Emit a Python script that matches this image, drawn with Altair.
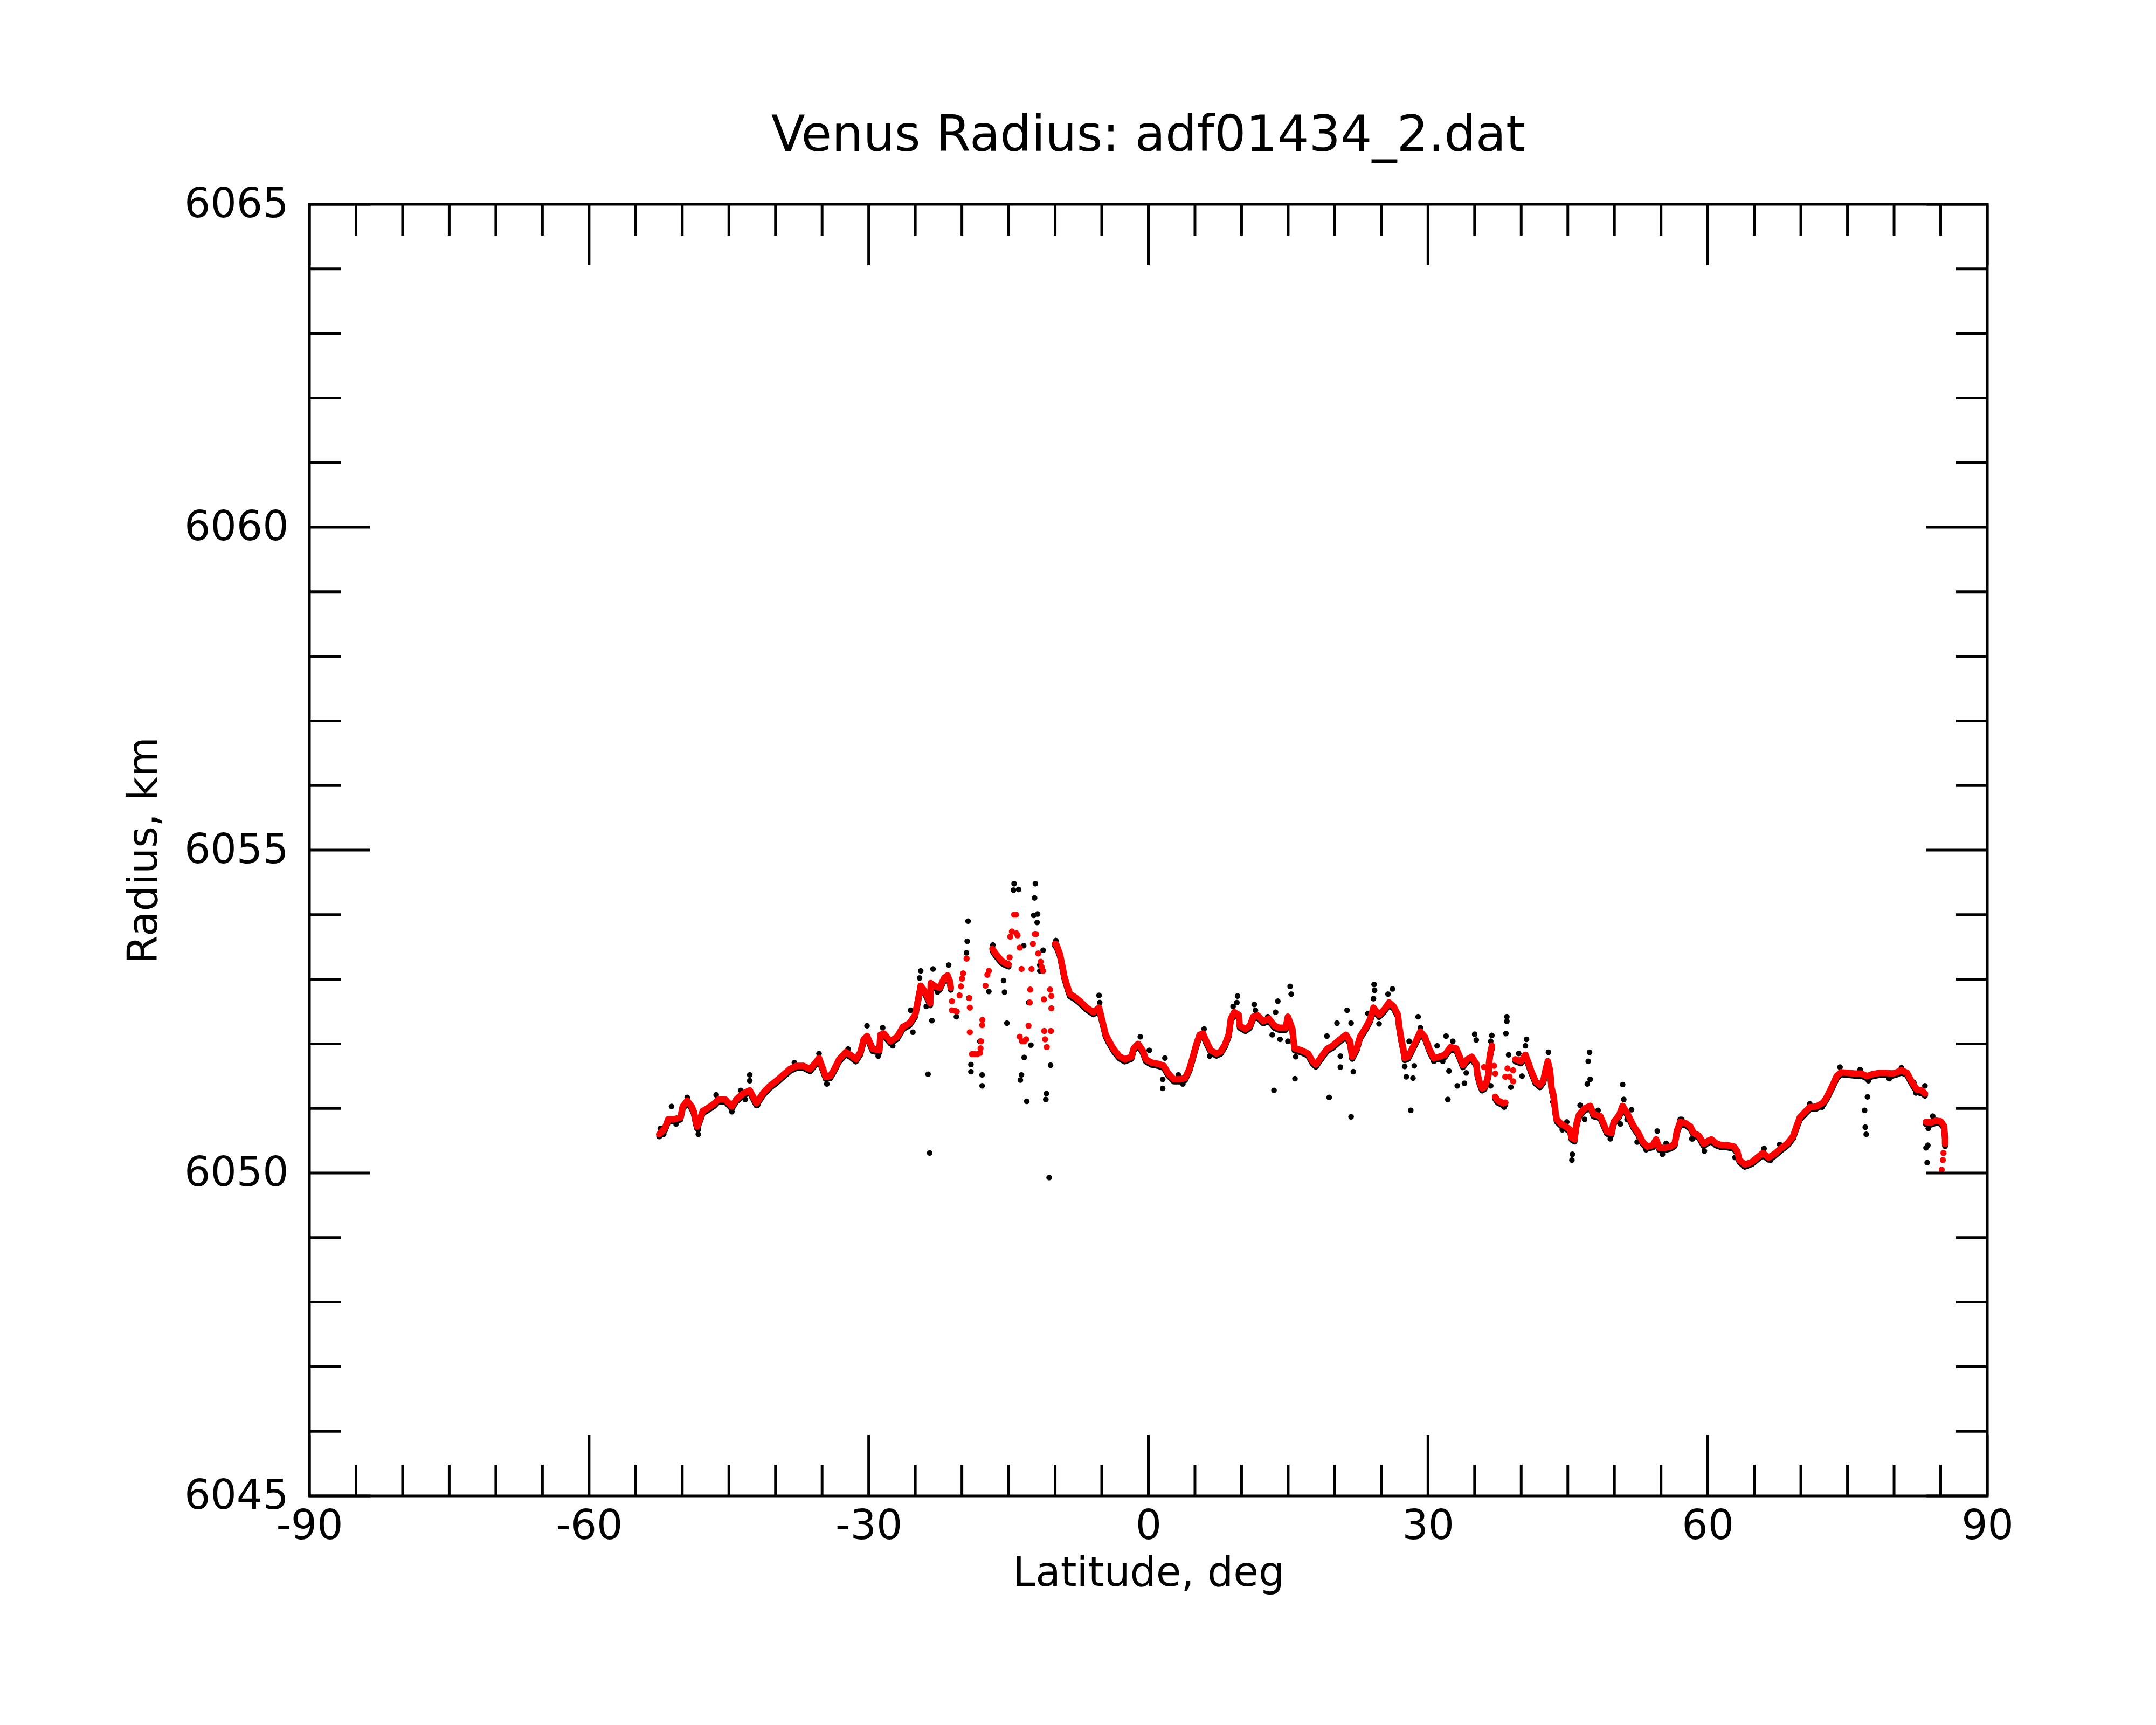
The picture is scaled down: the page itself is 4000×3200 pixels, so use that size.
import altair as alt
import pandas as pd

# ---------------- data ----------------
# smoothed radius (red), continuous runs as [latitude, radius] pairs
run_1 = [
    [-52.47, 6050.60], [-51.87, 6050.69], [-51.51, 6050.83], [-50.91, 6050.83], [-50.20, 6050.86],
    [-49.95, 6051.03], [-49.47, 6051.12], [-48.99, 6051.03], [-48.76, 6050.95], [-48.52, 6050.78],
    [-48.40, 6050.72], [-48.04, 6050.86], [-47.80, 6050.96], [-47.32, 6051.00], [-46.60, 6051.07],
    [-46.12, 6051.14], [-45.40, 6051.14], [-44.68, 6051.03], [-44.20, 6051.14], [-43.48, 6051.23],
    [-42.76, 6051.28], [-42.04, 6051.08], [-41.32, 6051.24], [-40.60, 6051.35], [-39.88, 6051.43],
    [-39.17, 6051.52], [-38.45, 6051.61], [-37.73, 6051.66], [-37.01, 6051.66], [-36.29, 6051.61],
    [-35.57, 6051.73], [-35.33, 6051.78], [-34.85, 6051.59], [-34.61, 6051.49], [-34.13, 6051.50],
    [-33.65, 6051.62], [-33.17, 6051.76], [-32.45, 6051.87], [-31.97, 6051.83], [-31.37, 6051.76],
    [-30.89, 6051.87], [-30.53, 6052.07], [-30.17, 6052.12], [-29.81, 6052.00], [-29.57, 6051.92],
    [-28.86, 6051.90], [-28.74, 6052.14], [-28.38, 6052.16], [-27.66, 6052.04], [-26.94, 6052.11],
    [-26.34, 6052.26], [-25.62, 6052.32], [-25.02, 6052.45], [-24.78, 6052.63], [-24.54, 6052.80],
    [-24.42, 6052.90], [-24.06, 6052.83], [-23.70, 6052.73], [-23.40, 6052.63], [-23.34, 6052.94],
    [-22.86, 6052.89], [-22.38, 6052.87], [-21.90, 6053.02], [-21.54, 6053.06], [-21.30, 6052.97],
    [-21.19, 6052.87],
]
run_2 = [
    [-16.72, 6053.47], [-16.40, 6053.40], [-16.06, 6053.34], [-15.70, 6053.28], [-15.33, 6053.25],
    [-15.00, 6053.23],
]
run_3 = [
    [-10.00, 6053.55], [-9.85, 6053.53], [-9.49, 6053.39], [-9.25, 6053.22], [-9.01, 6053.04],
    [-8.65, 6052.87], [-8.41, 6052.77], [-7.93, 6052.73], [-7.33, 6052.66], [-6.61, 6052.56],
    [-5.89, 6052.49], [-5.29, 6052.56], [-4.93, 6052.35], [-4.57, 6052.14], [-4.21, 6052.04],
    [-3.73, 6051.92], [-3.13, 6051.81], [-2.53, 6051.76], [-1.81, 6051.80], [-1.57, 6051.93],
    [-1.10, 6052.00], [-0.62, 6051.90], [-0.26, 6051.76], [0.34, 6051.71], [1.06, 6051.69],
    [1.66, 6051.66], [2.14, 6051.54], [2.74, 6051.45], [3.34, 6051.45], [3.94, 6051.47],
    [4.42, 6051.62], [4.78, 6051.80], [5.14, 6051.99], [5.50, 6052.14], [5.86, 6052.16],
    [6.22, 6052.04], [6.70, 6051.90], [7.30, 6051.85], [7.77, 6051.88], [8.25, 6052.00],
    [8.61, 6052.14], [8.73, 6052.25], [8.85, 6052.39], [9.21, 6052.49], [9.69, 6052.45],
    [9.81, 6052.28], [10.41, 6052.23], [10.89, 6052.28], [11.25, 6052.42], [11.73, 6052.44],
    [12.33, 6052.35], [12.93, 6052.39], [13.53, 6052.28], [14.01, 6052.25], [14.73, 6052.25],
    [14.97, 6052.42], [15.45, 6052.23], [15.57, 6052.06], [15.69, 6051.93], [16.41, 6051.90],
    [17.13, 6051.85], [17.61, 6051.73], [17.97, 6051.68], [18.56, 6051.80], [19.16, 6051.92],
    [19.76, 6051.97], [20.48, 6052.06], [21.20, 6052.14], [21.63, 6052.04], [21.87, 6051.80],
    [22.35, 6051.93], [22.71, 6052.11], [23.31, 6052.25], [23.79, 6052.38], [24.15, 6052.56],
    [24.75, 6052.45], [25.35, 6052.54], [25.83, 6052.64], [26.31, 6052.58], [26.78, 6052.45],
    [26.90, 6052.28], [27.14, 6052.07], [27.34, 6051.93], [27.50, 6051.78], [27.86, 6051.80],
    [28.22, 6051.90], [28.70, 6052.04], [29.18, 6052.19], [29.66, 6052.11], [30.14, 6051.92],
    [30.62, 6051.78], [31.22, 6051.80], [31.82, 6051.83], [32.42, 6051.95], [33.02, 6051.93],
    [33.38, 6051.81], [33.74, 6051.67], [34.22, 6051.76], [34.70, 6051.80], [35.18, 6051.69],
    [35.30, 6051.54], [35.55, 6051.40], [35.80, 6051.31], [36.05, 6051.33], [36.30, 6051.42],
    [36.50, 6051.54], [36.55, 6051.71], [36.65, 6051.83], [36.86, 6051.97],
]
run_4 = [
    [37.21, 6051.18], [37.50, 6051.12], [37.81, 6051.10], [38.05, 6051.08], [38.29, 6051.09],
]
run_5 = [
    [39.37, 6051.76], [39.97, 6051.73], [40.45, 6051.83], [40.81, 6051.69], [41.05, 6051.59],
    [41.53, 6051.42], [42.01, 6051.36], [42.37, 6051.43], [42.61, 6051.59], [42.85, 6051.73],
    [43.09, 6051.59], [43.26, 6051.31], [43.45, 6051.21], [43.57, 6051.07], [43.69, 6050.93],
    [43.81, 6050.83], [44.29, 6050.76], [44.77, 6050.72], [45.25, 6050.67], [45.40, 6050.55],
    [45.72, 6050.52], [45.80, 6050.62], [45.96, 6050.78], [46.20, 6050.90], [46.80, 6051.00],
    [47.40, 6051.04], [47.76, 6050.91], [48.48, 6050.88], [48.84, 6050.76], [49.20, 6050.64],
    [49.68, 6050.62], [49.92, 6050.79], [50.52, 6050.90], [50.88, 6051.04], [51.36, 6050.93],
    [51.84, 6050.79], [52.08, 6050.72], [52.56, 6050.62], [53.04, 6050.48], [53.52, 6050.41],
    [54.11, 6050.43], [54.47, 6050.52], [54.83, 6050.39], [55.43, 6050.39], [56.03, 6050.41],
    [56.46, 6050.45], [56.70, 6050.65], [57.06, 6050.79], [57.66, 6050.77], [58.14, 6050.72],
    [58.50, 6050.62], [58.91, 6050.59], [59.10, 6050.57], [59.58, 6050.45], [60.06, 6050.50],
    [60.42, 6050.52], [60.90, 6050.46], [61.49, 6050.43], [62.09, 6050.43], [62.81, 6050.41],
    [63.17, 6050.34], [63.41, 6050.20], [64.01, 6050.13], [64.73, 6050.17], [65.33, 6050.24],
    [65.93, 6050.31], [66.53, 6050.24], [67.13, 6050.29], [67.85, 6050.38], [68.57, 6050.46],
    [69.17, 6050.57], [69.53, 6050.72], [69.89, 6050.86], [70.48, 6050.95], [70.96, 6051.02],
    [71.68, 6051.03], [72.40, 6051.09], [72.76, 6051.17], [73.24, 6051.31], [73.60, 6051.42],
    [73.84, 6051.50], [74.32, 6051.56], [75.04, 6051.55], [75.76, 6051.54], [76.48, 6051.54],
    [77.08, 6051.50], [77.68, 6051.53], [78.40, 6051.55], [79.12, 6051.55], [79.84, 6051.54],
    [80.31, 6051.56], [80.79, 6051.59], [81.39, 6051.55], [81.75, 6051.45], [82.11, 6051.36],
    [82.47, 6051.29], [82.95, 6051.28], [83.31, 6051.23],
]
run_6 = [
    [83.43, 6050.79], [83.91, 6050.78], [84.51, 6050.81], [84.99, 6050.80], [85.35, 6050.73],
    [85.47, 6050.55], [85.47, 6050.45],
]
# smoothed radius (red), isolated dots
red_dots = [
    [-21.07, 6052.66], [-21.07, 6052.52], [-20.70, 6052.51], [-20.55, 6052.50], [-20.25, 6052.75],
    [-20.10, 6052.89], [-19.99, 6053.01], [-19.87, 6053.09], [-19.50, 6053.32], [-19.21, 6052.71],
    [-19.15, 6052.56], [-19.15, 6052.18], [-18.92, 6051.84], [-18.65, 6051.84], [-18.35, 6051.84],
    [-18.05, 6051.86], [-18.00, 6051.93], [-17.95, 6052.04], [-17.83, 6052.29], [-17.80, 6052.37],
    [-17.47, 6052.90], [-17.27, 6053.07], [-17.11, 6053.13],
    [-14.88, 6053.34], [-14.81, 6053.66], [-14.64, 6053.74], [-14.40, 6054.00], [-14.20, 6054.00],
    [-14.04, 6053.68], [-14.15, 6053.71], [-13.80, 6053.49], [-13.60, 6053.16], [-13.80, 6052.11],
    [-13.55, 6052.04], [-13.30, 6052.04], [-13.10, 6052.07], [-12.85, 6052.28], [-12.72, 6052.64],
    [-12.67, 6052.84], [-12.53, 6053.16], [-12.38, 6053.55], [-12.18, 6053.70], [-12.05, 6053.70],
    [-11.81, 6053.40], [-11.55, 6053.27], [-11.44, 6053.19], [-11.30, 6053.13], [-11.20, 6052.69],
    [-11.17, 6052.20], [-11.08, 6052.07], [-10.90, 6051.95], [-10.45, 6052.20], [-10.54, 6052.84],
    [-10.40, 6052.74], [-10.40, 6052.55],
    [37.09, 6051.66], [37.21, 6051.54], [36.01, 6051.64],
    [38.29, 6051.49], [38.53, 6051.62], [38.75, 6051.49], [39.13, 6051.59], [39.13, 6051.42],
    [85.30, 6050.31], [85.23, 6050.20], [85.11, 6050.05],
]
# raw radius samples (black) standing off the smoothed curve
raw_dots = [
    [-19.34, 6053.90], [-19.43, 6053.59], [-19.51, 6053.41], [-23.63, 6051.53], [-23.46, 6050.31],
    [-23.22, 6052.36], [-17.83, 6051.52], [-17.83, 6051.35], [-19.03, 6051.57], [-19.03, 6051.68],
    [-18.07, 6052.04], [-17.11, 6052.81], [-16.68, 6053.53], [-23.82, 6052.58], [-25.26, 6052.18],
    [-24.42, 6053.13], [-24.54, 6053.02], [-23.10, 6053.16], [-21.42, 6053.22], [-22.62, 6052.80],
    [-25.50, 6052.52], [-20.59, 6052.42], [-19.27, 6052.71], [-27.42, 6051.97], [-28.98, 6051.81],
    [-30.18, 6052.28], [-28.50, 6052.25], [-32.21, 6051.92], [-35.33, 6051.85], [-37.97, 6051.71],
    [-34.49, 6051.38], [-42.76, 6051.52], [-42.76, 6051.43], [-41.92, 6051.05], [-44.68, 6050.95],
    [-46.36, 6051.21], [-48.28, 6050.60], [-48.28, 6050.67], [-49.47, 6051.17], [-51.15, 6051.03],
    [-50.67, 6050.76], [-52.35, 6050.69], [-51.99, 6050.60], [-43.72, 6051.28], [-43.24, 6051.14],
    [-14.40, 6054.48], [-13.92, 6054.39], [-14.47, 6054.38], [-12.12, 6054.48], [-12.20, 6054.26],
    [-11.88, 6054.01], [-12.29, 6053.99], [-11.93, 6053.88], [-13.37, 6053.52], [-11.29, 6053.45],
    [-11.64, 6053.22], [-11.64, 6053.13], [-15.53, 6052.98], [-15.43, 6052.80], [-15.17, 6052.32],
    [-12.84, 6052.64], [-12.60, 6051.98], [-13.32, 6051.79], [-13.61, 6051.52], [-13.73, 6051.44],
    [-13.04, 6051.11], [-10.49, 6051.67], [-10.93, 6051.23], [-11.00, 6051.14], [-10.64, 6049.93],
    [-9.92, 6053.60], [-5.29, 6052.75], [-5.22, 6052.64], [-0.86, 6052.11], [0.10, 6051.90],
    [1.78, 6051.78], [1.54, 6051.45], [1.54, 6051.31], [3.22, 6051.52], [3.70, 6051.38],
    [5.98, 6052.23], [6.58, 6051.81], [9.57, 6052.74], [9.50, 6052.64], [9.09, 6052.58],
    [11.37, 6052.61], [11.49, 6052.52], [13.89, 6052.66], [13.65, 6052.49], [15.21, 6052.89],
    [15.33, 6052.77], [13.29, 6052.14], [14.13, 6052.07], [14.97, 6052.04], [15.81, 6051.80],
    [15.73, 6051.46], [13.48, 6051.28], [19.40, 6051.17], [20.60, 6051.64], [20.60, 6051.81],
    [20.24, 6052.32], [21.32, 6052.52], [19.16, 6052.12], [12.81, 6052.42],
    [21.75, 6052.32], [21.99, 6051.57], [21.75, 6050.87], [24.22, 6052.92], [24.27, 6052.83],
    [24.15, 6052.70], [23.55, 6052.47], [24.75, 6052.31], [25.23, 6052.51], [26.19, 6052.85],
    [25.71, 6052.77], [27.50, 6051.65], [27.67, 6051.49], [28.39, 6051.47], [28.15, 6050.97],
    [28.53, 6051.66], [27.98, 6052.04], [28.94, 6052.42], [29.18, 6052.25], [30.62, 6051.73],
    [30.98, 6051.97], [31.58, 6051.73], [31.94, 6052.12], [32.66, 6052.04], [32.25, 6051.58],
    [33.14, 6051.35], [32.13, 6051.14], [33.91, 6051.39], [34.10, 6051.55], [35.01, 6052.15],
    [35.18, 6052.06], [36.73, 6051.35], [36.85, 6052.13], [36.73, 6052.04], [38.17, 6051.02],
    [38.46, 6052.42], [38.46, 6052.35], [38.36, 6052.16], [38.65, 6051.83], [38.89, 6051.33],
    [39.73, 6051.85], [40.09, 6051.50], [40.57, 6052.07], [40.45, 6051.97], [42.92, 6051.87],
    [43.40, 6051.10], [44.41, 6050.67], [44.89, 6050.79], [45.44, 6050.20], [45.49, 6050.29],
    [47.33, 6051.87], [47.19, 6051.73], [47.40, 6051.45], [47.09, 6051.38], [46.32, 6051.05],
    [46.80, 6050.83], [48.24, 6050.97], [49.56, 6050.53], [50.88, 6051.37], [51.00, 6051.14],
    [50.64, 6050.76], [51.36, 6050.83], [51.84, 6050.98], [52.44, 6050.48], [53.40, 6050.36],
    [54.60, 6050.65], [55.15, 6050.29], [55.55, 6050.46], [57.23, 6050.83], [58.31, 6050.53],
    [74.20, 6051.64], [76.36, 6051.60], [77.25, 6051.43], [77.15, 6051.18], [76.84, 6050.97],
    [76.91, 6050.71], [77.01, 6050.60], [80.79, 6051.63], [79.48, 6051.46], [83.31, 6051.35],
    [83.67, 6050.69], [83.62, 6050.43], [83.43, 6050.39], [83.55, 6050.16], [84.15, 6050.88],
    [58.38, 6050.53], [59.65, 6050.34], [62.93, 6050.24], [63.89, 6050.10], [66.05, 6050.38],
    [66.77, 6050.20], [67.73, 6050.44], [70.96, 6051.07], [72.28, 6051.02], [57.06, 6050.83],
    [82.83, 6051.23], [82.11, 6051.40], [82.35, 6051.24],
]

# axis tick positions and labels
x_labels = [-90, -60, -30, 0, 30, 60, 90]
x_minor = [v for v in range(-85, 90, 5) if v % 30 != 0]
y_labels = [6045, 6050, 6055, 6060, 6065]
y_minor = [v for v in range(6046, 6065) if v % 5 != 0]

# ---------------- chart ----------------
W, H = 3113, 2396
MAJ, MIN = 113, 58
FONT = "DejaVu Sans"

runs = [run_1, run_2, run_3, run_4, run_5, run_6]
line_rows = [
    {"lat": p[0], "r": p[1], "seg": i + 1} for i, run in enumerate(runs) for p in run
]
line_df = pd.DataFrame(line_rows)
red_df = pd.DataFrame(
    [{"lat": p[0], "r": p[1]} for run in runs for p in run]
    + [{"lat": p[0], "r": p[1]} for p in red_dots]
)
blk_df = pd.DataFrame([{"lat": p[0], "r": p[1]} for p in raw_dots])
xmaj = pd.DataFrame({"lat": x_labels})
xmin = pd.DataFrame({"lat": x_minor})
ymaj = pd.DataFrame({"r": y_labels})
ymin = pd.DataFrame({"r": y_minor})

xs = alt.Scale(domain=[-90, 90], nice=False, zero=False)
ys = alt.Scale(domain=[6045, 6065], nice=False, zero=False)

xa = alt.Axis(
    values=x_labels, labelExpr="toString(datum.value)", ticks=False, tickSize=0,
    domain=False, grid=False, labelFlush=False, labelOverlap=False, labelLimit=0,
    labelFont=FONT, labelFontSize=76, labelColor="black", labelPadding=19,
    title="Latitude, deg", titleFont=FONT, titleFontSize=76, titleFontWeight="normal",
    titleColor="black", titleX=W / 2, titleY=166, titleBaseline="alphabetic", titleAlign="center",
    titleLimit=0,
)
ya = alt.Axis(
    values=y_labels, labelExpr="toString(datum.value)", ticks=False, tickSize=0,
    domain=False, grid=False, labelFlush=False, labelOverlap=False, labelLimit=0,
    labelFont=FONT, labelFontSize=76, labelColor="black", labelPadding=39,
    title="Radius, km", titleFont=FONT, titleFontSize=76, titleFontWeight="normal",
    titleColor="black", titleX=-284, titleY=H / 2, titleAngle=270,
    titleBaseline="alphabetic", titleAlign="center", titleLimit=0,
)


def X():
    return alt.X("lat:Q", scale=xs, axis=xa)


def Y():
    return alt.Y("r:Q", scale=ys, axis=ya)


blk_pts = alt.Chart(blk_df).mark_circle(size=110, color="black", opacity=1).encode(x=X(), y=Y())

shadow = (
    alt.Chart(line_df)
    .mark_line(color="black", strokeWidth=11, yOffset=4, strokeCap="round", strokeJoin="round")
    .encode(x=X(), y=Y(), detail="seg:N")
)
red_line = (
    alt.Chart(line_df)
    .mark_line(color="#ff0000", strokeWidth=12, strokeCap="round", strokeJoin="round")
    .encode(x=X(), y=Y(), detail="seg:N")
)
red_pts = alt.Chart(red_df).mark_circle(size=130, color="#ff0000", opacity=1).encode(x=X(), y=Y())

rule = dict(color="black", strokeWidth=5)
t_bot_maj = alt.Chart(xmaj).mark_rule(**rule).encode(x=X(), y=alt.value(H), y2=alt.value(H - MAJ))
t_top_maj = alt.Chart(xmaj).mark_rule(**rule).encode(x=X(), y=alt.value(0), y2=alt.value(MAJ))
t_bot_min = alt.Chart(xmin).mark_rule(**rule).encode(x=X(), y=alt.value(H), y2=alt.value(H - MIN))
t_top_min = alt.Chart(xmin).mark_rule(**rule).encode(x=X(), y=alt.value(0), y2=alt.value(MIN))
t_l_maj = alt.Chart(ymaj).mark_rule(**rule).encode(y=Y(), x=alt.value(0), x2=alt.value(MAJ))
t_r_maj = alt.Chart(ymaj).mark_rule(**rule).encode(y=Y(), x=alt.value(W), x2=alt.value(W - MAJ))
t_l_min = alt.Chart(ymin).mark_rule(**rule).encode(y=Y(), x=alt.value(0), x2=alt.value(MIN))
t_r_min = alt.Chart(ymin).mark_rule(**rule).encode(y=Y(), x=alt.value(W), x2=alt.value(W - MIN))

chart = (
    alt.layer(
        blk_pts, shadow, red_line, red_pts,
        t_bot_maj, t_top_maj, t_bot_min, t_top_min, t_l_maj, t_r_maj, t_l_min, t_r_min,
    )
    .properties(
        width=W, height=H,
        title=alt.Title(
            "Venus Radius: adf01434_2.dat", font=FONT, fontSize=92, fontWeight="normal",
            color="black", anchor="middle", baseline="alphabetic", offset=-31,
        ),
        autosize=alt.AutoSizeParams(type="none"),
        padding={"left": 566, "top": 371, "right": 305, "bottom": 417},
        background="white",
    )
    .configure_view(stroke="black", strokeWidth=5, fill=None)
)

chart.save("out.html", embed_options={"renderer": "svg", "actions": False})
